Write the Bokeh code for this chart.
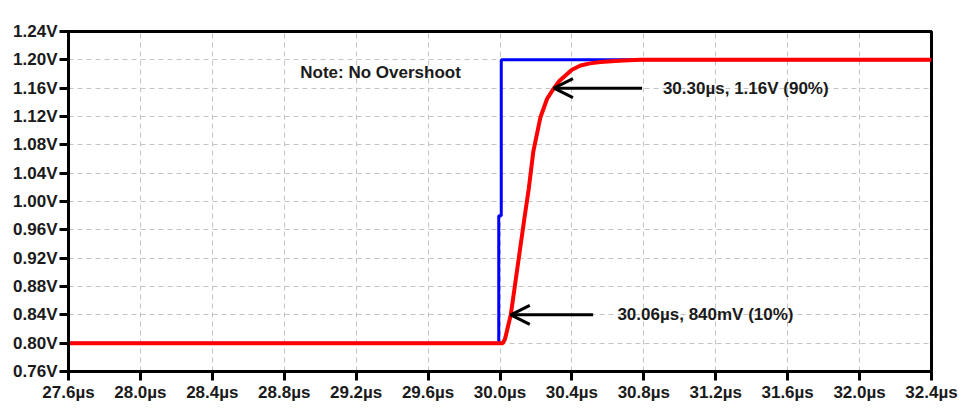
from bokeh.plotting import figure
from bokeh.models import (Range1d, FixedTicker, CustomJSTickFormatter, Label, Arrow, OpenHead)
from bokeh.embed import file_html
from bokeh.resources import INLINE

# Input step V(vp), in µs and V
vp_t = [27.6, 29.993, 29.993, 30.007, 30.007, 32.4]
vp_v = [0.80, 0.80, 0.98, 0.98, 1.20, 1.20]

# Output response V(vout)
vout_t = [27.6, 30.015, 30.028, 30.06, 30.085, 30.11, 30.135, 30.16, 30.185,
          30.225, 30.262, 30.30, 30.33, 30.364, 30.40, 30.448, 30.50, 30.56,
          30.62, 30.687, 30.78, 32.4]
vout_v = [0.80, 0.80, 0.806, 0.84, 0.885, 0.93, 0.975, 1.018, 1.07,
          1.119, 1.145, 1.16, 1.17, 1.178, 1.186, 1.192, 1.195, 1.197,
          1.198, 1.199, 1.20, 1.20]

x_ticks = [27.6, 28.0, 28.4, 28.8, 29.2, 29.6, 30.0, 30.4, 30.8, 31.2, 31.6, 32.0, 32.4]
y_ticks = [0.76, 0.80, 0.84, 0.88, 0.92, 0.96, 1.00, 1.04, 1.08, 1.12, 1.16, 1.20, 1.24]

# Measured rise points
p10_t, p10_v = 30.06, 0.84
p90_t, p90_v = 30.30, 1.16

FONT = "Liberation Sans"
TXT = "#1a1a1a"

p = figure(width=959, height=409, output_backend="svg", toolbar_location=None,
           x_range=Range1d(27.6, 32.4), y_range=Range1d(0.76, 1.24),
           min_border_left=68, min_border_right=28, min_border_top=31,
           min_border_bottom=38)

p.background_fill_color = "white"
p.border_fill_color = "white"
p.outline_line_color = "black"
p.outline_line_width = 3

for ax in (p.xaxis[0], p.yaxis[0]):
    ax.axis_line_width = 3
    ax.axis_line_color = "black"
    ax.major_tick_line_width = 3
    ax.major_tick_line_color = "black"
    ax.major_tick_out = 9
    ax.major_tick_in = 0
    ax.minor_tick_line_color = None
    ax.major_label_text_font = FONT
    ax.major_label_text_font_style = "bold"
    ax.major_label_text_font_size = "17px"
    ax.major_label_text_color = TXT
    ax.major_label_standoff = 2

p.xaxis.ticker = FixedTicker(ticks=x_ticks)
p.yaxis.ticker = FixedTicker(ticks=y_ticks)
p.xaxis.formatter = CustomJSTickFormatter(code="return tick.toFixed(1) + 'µs';")
p.yaxis.formatter = CustomJSTickFormatter(code="return tick.toFixed(2) + 'V';")

for g in (p.xgrid[0], p.ygrid[0]):
    g.grid_line_color = "#c4c4c4"
    g.grid_line_dash = "5 4"
    g.grid_line_width = 1

p.line(vp_t, vp_v, line_color="#0000ff", line_width=3)
p.line(vout_t, vout_v, line_color="#ff0000", line_width=4)

# Trace names above the plot area
p.add_layout(Label(x=28.792, y=1.2605, text="V(vp)", text_align="center",
                   text_baseline="middle", text_font=FONT, text_font_style="bold",
                   text_font_size="17px", text_color="#2a2aff"))
p.add_layout(Label(x=31.194, y=1.2605, text="V(vout)", text_align="center",
                   text_baseline="middle", text_font=FONT, text_font_style="bold",
                   text_font_size="17px", text_color="#ff2a2a"))

p.add_layout(Label(x=28.889, y=1.1827, text="Note: No Overshoot", text_align="left",
                   text_baseline="middle", text_font=FONT, text_font_style="bold",
                   text_font_size="17px", text_color=TXT))

# 90% marker
p.add_layout(Arrow(end=OpenHead(size=19, line_width=3, line_color="black"),
                   x_start=30.79, y_start=p90_v, x_end=p90_t, y_end=p90_v,
                   line_width=3, line_color="black"))
p.add_layout(Label(x=30.906, y=p90_v, text=f"{p90_t:.2f}µs, {p90_v:.2f}V (90%)",
                   text_align="left", text_baseline="middle", text_font=FONT,
                   text_font_style="bold", text_font_size="17px", text_color=TXT))

# 10% marker
p.add_layout(Arrow(end=OpenHead(size=19, line_width=3, line_color="black"),
                   x_start=30.518, y_start=p10_v, x_end=p10_t, y_end=p10_v,
                   line_width=3, line_color="black"))
p.add_layout(Label(x=30.653, y=p10_v, text=f"{p10_t:.2f}µs, {p10_v*1000:.0f}mV (10%)",
                   text_align="left", text_baseline="middle", text_font=FONT,
                   text_font_style="bold", text_font_size="17px", text_color=TXT))

open("out.html", "w").write(file_html(p, INLINE))
